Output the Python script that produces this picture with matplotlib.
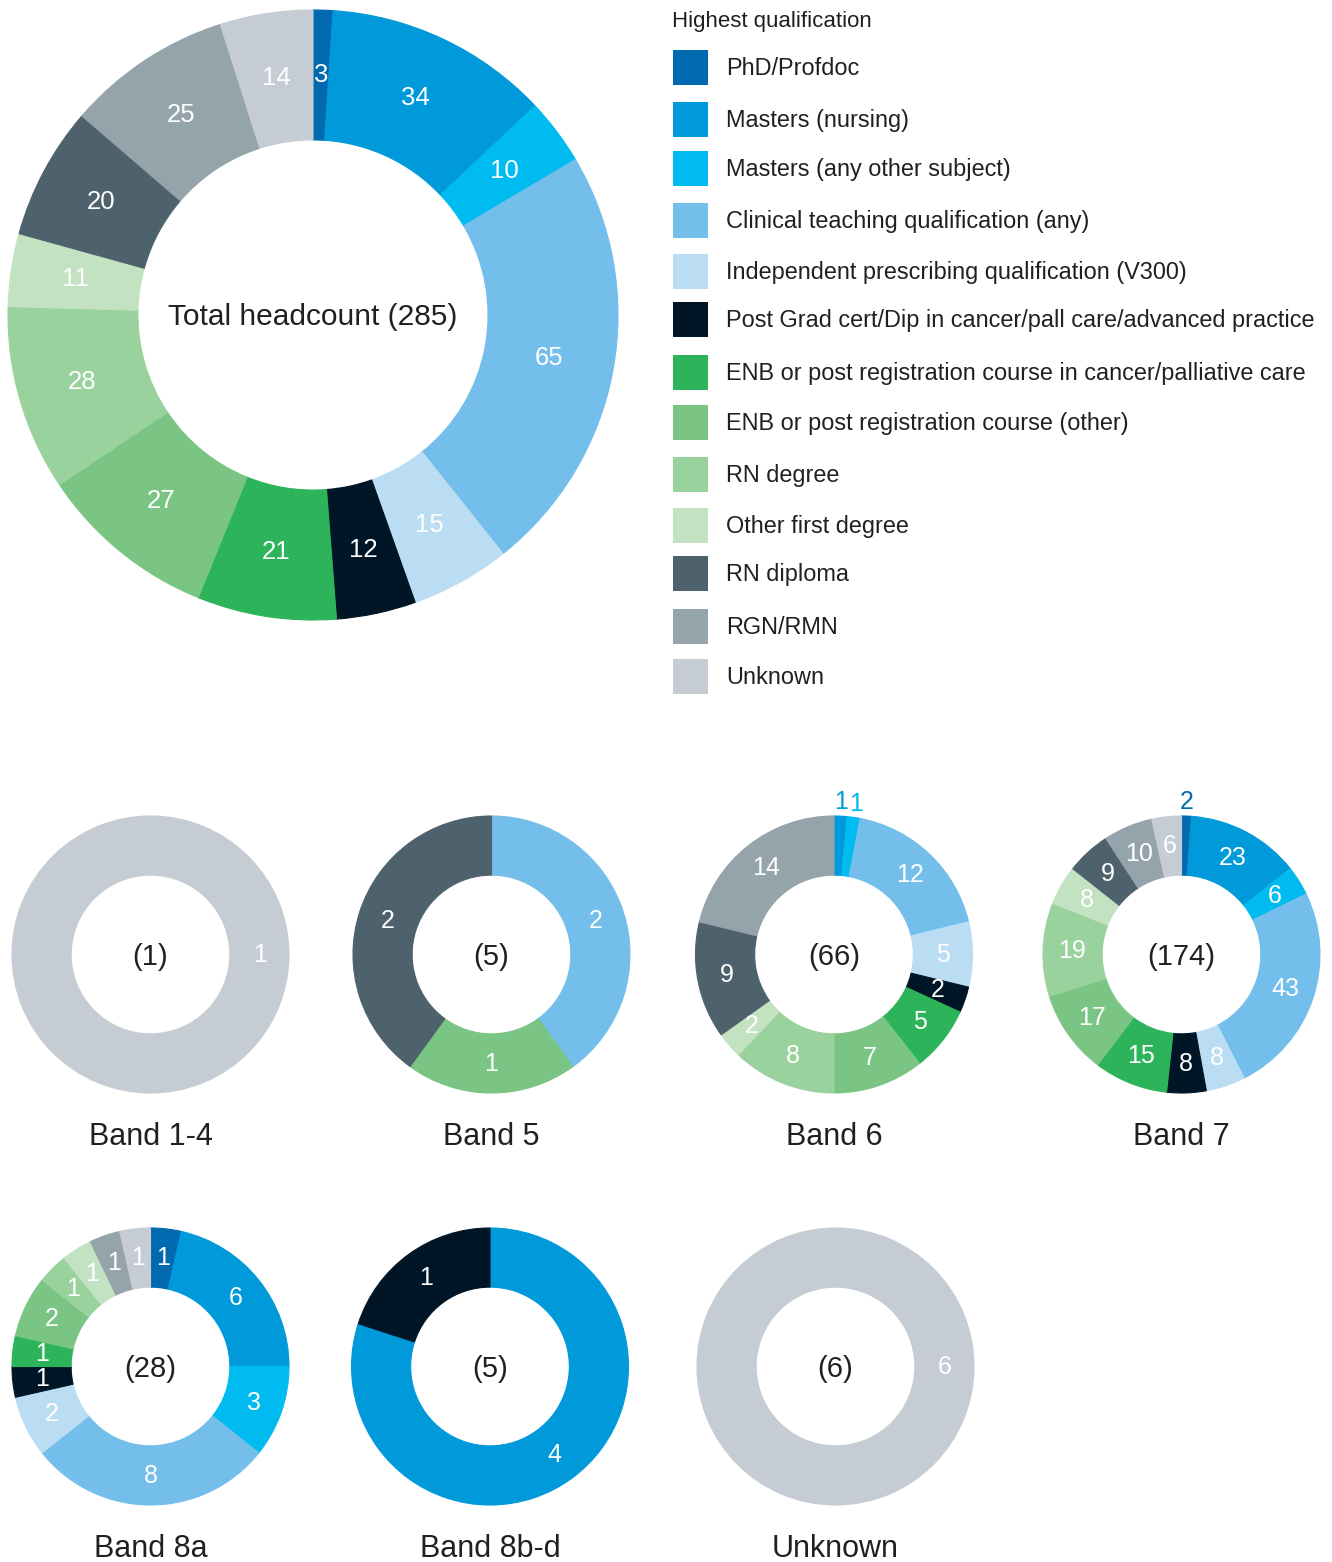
import matplotlib
matplotlib.use("Agg")
import numpy as np
import matplotlib.pyplot as plt
from matplotlib.patches import Rectangle

plt.rcParams['font.family'] = ['Liberation Sans', 'DejaVu Sans']

# ---------------- data ----------------
categories = [
    "PhD/Profdoc",
    "Masters (nursing)",
    "Masters (any other subject)",
    "Clinical teaching qualification (any)",
    "Independent prescribing qualification (V300)",
    "Post Grad cert/Dip in cancer/pall care/advanced practice",
    "ENB or post registration course in cancer/palliative care",
    "ENB or post registration course (other)",
    "RN degree",
    "Other first degree",
    "RN diploma",
    "RGN/RMN",
    "Unknown",
]
colors = ["#0069AF", "#0099DA", "#00BBEF", "#73BEEA", "#BBDDF4", "#001626",
          "#2DB45A", "#7AC583", "#9AD29D", "#C2E2C1", "#4E626D", "#95A3AA", "#C5CCD3"]

total_values = [3, 34, 10, 65, 15, 12, 21, 27, 28, 11, 20, 25, 14]

band_names = ["Band 1-4", "Band 5", "Band 6", "Band 7", "Band 8a", "Band 8b-d", "Unknown"]
band_1_4 = [0, 0, 0, 0, 0, 0, 0, 0, 0, 0, 0, 0, 1]
band_5 = [0, 0, 0, 2, 0, 0, 0, 1, 0, 0, 2, 0, 0]
band_6 = [0, 1, 1, 12, 5, 2, 5, 7, 8, 2, 9, 14, 0]
band_7 = [2, 23, 6, 43, 8, 8, 15, 17, 19, 8, 9, 10, 6]
band_8a = [1, 6, 3, 8, 2, 1, 1, 2, 1, 1, 0, 1, 1]
band_8bd = [0, 4, 0, 0, 0, 1, 0, 0, 0, 0, 0, 0, 0]
band_unknown = [0, 0, 0, 0, 0, 0, 0, 0, 0, 0, 0, 0, 6]
band_values = [band_1_4, band_5, band_6, band_7, band_8a, band_8bd, band_unknown]

# labels drawn outside the ring (category indices), per band
outside_labels = {"Band 6": [1, 2], "Band 7": [0]}

legend_title = "Highest qualification"
total_label = "Total headcount"

# ---------------- layout ----------------
W, H = 1332, 1562
DPI = 100
TXT = "#231f20"
fig = plt.figure(figsize=(W / DPI, H / DPI), dpi=DPI)
fig.patch.set_facecolor("white")


def add_ax(cx, cy, R):
    return fig.add_axes([(cx - R) / W, (H - cy - R) / H, 2 * R / W, 2 * R / H])


def donut(ax, values, width, label_r, fs, outside=()):
    idx = [i for i, v in enumerate(values) if v > 0]
    vals = [values[i] for i in idx]
    cols = [colors[i] for i in idx]
    wedges, _ = ax.pie(vals, colors=cols, startangle=90, counterclock=False,
                       radius=1, wedgeprops=dict(width=width, linewidth=0.8))
    for w, c in zip(wedges, cols):
        w.set_edgecolor(c)
    for w, i, v in zip(wedges, idx, vals):
        if len(vals) == 1:
            mid = 0.0
        else:
            mid = np.deg2rad((w.theta1 + w.theta2) / 2)
        if i in outside:
            r, col = 1.1, colors[i]
        else:
            r, col = label_r, "white"
        ax.text(r * np.cos(mid), r * np.sin(mid), str(v), ha="center", va="center",
                fontsize=fs, color=col)
    ax.set_xlim(-1, 1)
    ax.set_ylim(-1, 1)
    ax.set_aspect("equal")
    ax.axis("off")


# main donut
ax0 = add_ax(313, 315, 305)
donut(ax0, total_values, 0.426, 0.787, 18.5)
ax0.text(0, -0.005, f"{total_label} ({sum(total_values)})", ha="center", va="center",
         fontsize=21.5, color=TXT)

# band donuts
centers = [(150.5, 954.5), (491.5, 954.5), (834, 954.5), (1181.5, 954.5),
           (150.5, 1366.5), (490, 1366.5), (835.5, 1366.5)]
R = 138.5
for name, vals, (cx, cy) in zip(band_names, band_values, centers):
    ax = add_ax(cx, cy, R)
    donut(ax, vals, 0.427, 0.79, 18, outside_labels.get(name, ()))
    ax.text(0, -0.02, f"({sum(vals)})", ha="center", va="center", fontsize=21, color=TXT)
    ax.text(0, -1.32, name, ha="center", va="center", fontsize=22, color=TXT)

# legend
axl = fig.add_axes([0, 0, 1, 1], zorder=-1)
axl.set_xlim(0, W)
axl.set_ylim(H, 0)
axl.axis("off")
axl.text(672, 22, legend_title, ha="left", va="center", fontsize=16, color=TXT)
row_y = [67, 119, 168, 220, 271, 319, 372, 422, 474, 525, 573, 626, 676]
for lab, col, y in zip(categories, colors, row_y):
    axl.add_patch(Rectangle((673, y - 17.5), 35, 35, facecolor=col, edgecolor="none"))
    axl.text(726, y + 1.5, lab, ha="left", va="center", fontsize=16.9, color=TXT)

fig.savefig("out.png", dpi=DPI, facecolor="white")
